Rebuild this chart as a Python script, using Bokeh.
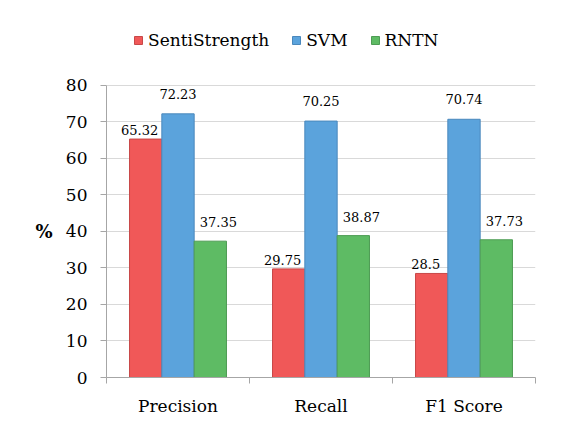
from bokeh.plotting import figure
from bokeh.models import ColumnDataSource, FixedTicker, Legend, LegendItem, LinearAxis
from bokeh.transform import dodge
from bokeh.core.properties import value
from bokeh.embed import file_html
from bokeh.resources import INLINE

categories = ["Precision", "Recall", "F1 Score"]
series = ["SentiStrength", "SVM", "RNTN"]
senti = [65.32, 29.75, 28.5]
svm = [72.23, 70.25, 70.74]
rntn = [37.35, 38.87, 37.73]
y_ticks = [0, 10, 20, 30, 40, 50, 60, 70, 80]
y_title = "%"

FONT = "DejaVu Serif"
fills = ["#F05858", "#5BA3DC", "#5EBB64"]
lines = ["#C84848", "#4A88BC", "#4E9C54"]
offsets = [-0.226, 0.0, 0.226]
label_dy = [-4, -15, -14]
label_dx = [-6, 0, 8]

xs = [i + 0.5 for i in range(len(categories))]
src = ColumnDataSource(dict(x=xs, SentiStrength=senti, SVM=svm, RNTN=rntn,
                            l0=[f"{v:g}" for v in senti],
                            l1=[f"{v:g}" for v in svm],
                            l2=[f"{v:g}" for v in rntn]))

# frame extends to near the top so the legend can sit inside it; axis is bounded to 0..80
p = figure(width=563, height=430, output_backend="svg", toolbar_location=None,
           x_range=(0, len(categories)), y_range=(0, 97.8),
           min_border_left=106, min_border_right=28, min_border_top=20, min_border_bottom=53)
p.outline_line_color = None
p.background_fill_color = "white"
p.border_fill_color = "white"

items = []
for k, name in enumerate(series):
    r = p.vbar(x=dodge("x", offsets[k], range=p.x_range), top=name, width=0.226,
               source=src, fill_color=fills[k], line_color=lines[k], line_width=1)
    items.append(LegendItem(label=name, renderers=[r]))
    p.text(x=dodge("x", offsets[k], range=p.x_range), y=name, text=f"l{k}", source=src,
           text_align="center", text_baseline="bottom",
           x_offset=label_dx[k], y_offset=label_dy[k],
           text_font=value(FONT), text_font_size="13px", text_color="black")

# axes
p.xaxis.ticker = FixedTicker(ticks=xs, minor_ticks=[0, 1, 2, 3])
p.xaxis.major_label_overrides = {x: c for x, c in zip(xs, categories)}
p.xaxis.major_tick_out = 0
p.xaxis.major_tick_in = 0
p.xaxis.minor_tick_out = 6
p.xaxis.minor_tick_in = 0
p.xaxis.minor_tick_line_color = "#A6A6A6"
p.xaxis.axis_line_color = "#A6A6A6"
p.xaxis.major_label_text_font = FONT
p.xaxis.major_label_text_font_size = "17px"
p.xaxis.major_label_text_color = "black"
p.xaxis.major_label_standoff = 12

p.yaxis.ticker = FixedTicker(ticks=y_ticks, minor_ticks=[])
p.yaxis.bounds = (0, 80)
p.yaxis.major_tick_out = 6
p.yaxis.major_tick_in = 0
p.yaxis.major_tick_line_color = "#A6A6A6"
p.yaxis.axis_line_color = "#A6A6A6"
p.yaxis.major_label_text_font = FONT
p.yaxis.major_label_text_font_size = "17px"
p.yaxis.major_label_text_color = "black"
p.yaxis.major_label_standoff = 13

# horizontal "%" title as a second, bare axis
title_axis = LinearAxis(ticker=FixedTicker(ticks=[40], minor_ticks=[]),
                        major_label_overrides={40: y_title},
                        axis_line_color=None, major_tick_line_color=None,
                        minor_tick_line_color=None, major_label_standoff=4,
                        major_label_text_font=FONT, major_label_text_font_size="18px",
                        major_label_text_font_style="bold", major_label_text_color="black")
p.add_layout(title_axis, "left")

p.xgrid.grid_line_color = None
p.ygrid.grid_line_color = "#D9D9D9"
p.ygrid.ticker = FixedTicker(ticks=y_ticks)

legend = Legend(items=items, orientation="horizontal", location=(27, 327),
                glyph_width=10, glyph_height=10, label_standoff=5, spacing=22,
                padding=0, margin=0, border_line_color=None, background_fill_alpha=0,
                label_text_font=FONT, label_text_font_size="17px", label_text_color="black")
p.add_layout(legend, "center")

open("out.html", "w").write(file_html(p, INLINE))
